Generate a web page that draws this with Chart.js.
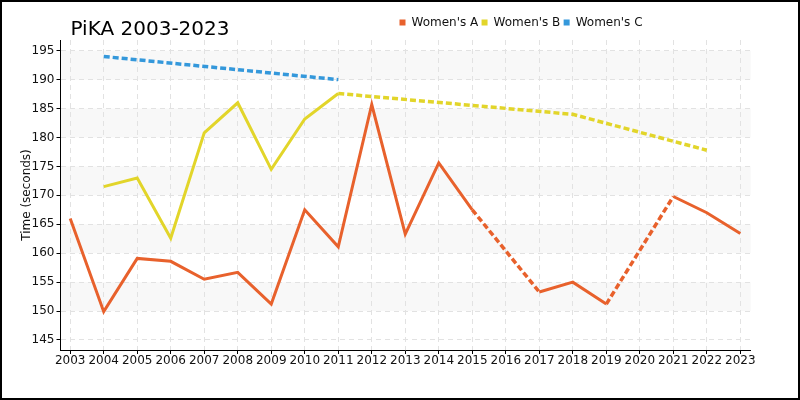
<!DOCTYPE html>
<html>
<head>
<meta charset="utf-8">
<script src="https://cdn.jsdelivr.net/npm/chart.js@4"></script>
<style>
  html, body { margin: 0; padding: 0; background: #fff; }
  #wrap { width: 800px; height: 400px; }
</style>
</head>
<body>
<div id="wrap"><canvas id="myChart" width="800" height="400"></canvas></div>
<script>
var years = [2003, 2004, 2005, 2006, 2007, 2008, 2009, 2010, 2011, 2012, 2013,
             2014, 2015, 2016, 2017, 2018, 2019, 2020, 2021, 2022, 2023];
var womenA = [166.0, 149.9, 159.1, 158.6, 155.5, 156.7, 151.2, 167.5, 161.1, 185.7, 163.3,
              175.6, 167.5, null, 153.3, 155.0, 151.2, null, 169.8, 167.0, 163.4];
var womenB = [null, 171.5, 173.0, 162.6, 180.8, 186.0, 174.5, 183.2, 187.6, null, null,
              null, null, null, null, 184.0, null, null, null, 177.8, null];
var womenC = [null, 194.0, null, null, null, null, null, null, 190.0, null, null,
              null, null, null, null, null, null, null, null, null, null];
var yTicks = [145, 150, 155, 160, 165, 170, 175, 180, 185, 190, 195];
var bands = [[150, 155], [160, 165], [170, 175], [180, 185], [190, 195]];

var FONT = 'DejaVu Sans';

function points(values) {
  return years.map(function(yr, i) { return { x: yr, y: values[i] }; });
}

// gaps get joined with a dashed segment
var skipped = function(ctx, value) {
  return ctx.p0.skip || ctx.p1.skip ? value : undefined;
};

function series(label, color, values) {
  return {
    label: label,
    data: points(values),
    borderColor: color,
    backgroundColor: color,
    borderWidth: 3,
    pointRadius: 0,
    pointHoverRadius: 0,
    tension: 0,
    spanGaps: true,
    segment: {
      borderDash: function(ctx) { return skipped(ctx, [6, 3]); },
      borderWidth: function(ctx) { return skipped(ctx, 3.5); }
    }
  };
}

var decor = {
  id: 'decor',
  afterLayout: function(chart) {
    var lg = chart.legend;
    lg.left = 399.5 - lg.options.labels.padding;
    lg.right = 800;
    lg.top -= 1.5;
    lg.bottom -= 1.5;
  },
  beforeDraw: function(chart) {
    var c = chart.ctx, area = chart.chartArea, ys = chart.scales.y;
    c.save();
    c.fillStyle = '#f8f8f8';
    for (var b of bands) {
      var top = ys.getPixelForValue(b[1]);
      var bot = ys.getPixelForValue(b[0]);
      c.fillRect(area.left, top, area.right - area.left, bot - top);
    }
    c.restore();
  },
  afterDraw: function(chart) {
    var c = chart.ctx;
    c.save();
    c.fillStyle = '#000';
    c.font = '20px "' + FONT + '"';
    c.textBaseline = 'alphabetic';
    c.textAlign = 'left';
    c.fillText('PiKA 2003-2023', 70.5, 35);
    c.lineWidth = 2;
    c.strokeStyle = '#000';
    c.strokeRect(1, 1, 798, 398);
    c.restore();
  }
};

var ctx = document.getElementById('myChart').getContext('2d');
var myChart = new Chart(ctx, {
  type: 'line',
  data: {
    datasets: [
      series("Women's A", '#e8612c', womenA),
      series("Women's B", '#e2d52a', womenB),
      series("Women's C", '#3498db', womenC)
    ]
  },
  options: {
    responsive: false,
    animation: false,
    devicePixelRatio: 1,
    layout: { padding: { left: 0, right: 49.3, top: 14.7, bottom: 0 } },
    plugins: {
      title: { display: false },
      tooltip: { enabled: false },
      legend: {
        display: true,
        position: 'top',
        align: 'start',
        labels: {
          boxWidth: 6,
          boxHeight: 6,
          padding: 3.3,
          color: '#111',
          font: { family: FONT, size: 12 },
          generateLabels: function(chart) {
            return Chart.defaults.plugins.legend.labels.generateLabels(chart).map(function(l) {
              l.lineWidth = 0;
              l.lineDash = [];
              l.fillStyle = l.strokeStyle;
              return l;
            });
          }
        }
      }
    },
    scales: {
      x: {
        type: 'linear',
        min: 2002.71,
        max: 2023.31,
        afterBuildTicks: function(scale) {
          scale.ticks = years.map(function(v) { return { value: v }; });
        },
        afterFit: function(scale) { scale.height = 50; },
        ticks: {
          color: '#111',
          font: { family: FONT, size: 12 },
          padding: 0,
          maxRotation: 0,
          autoSkip: false,
          callback: function(v) { return String(v); }
        },
        grid: { color: '#e2e2e2', tickColor: '#000', tickLength: 4, lineWidth: 1 },
        border: { display: true, color: '#000', width: 1, dash: [5, 4] }
      },
      y: {
        min: 143.27,
        max: 196.85,
        afterBuildTicks: function(scale) {
          scale.ticks = yTicks.map(function(v) { return { value: v }; });
        },
        afterFit: function(scale) { scale.width = 60.5; },
        ticks: {
          color: '#111',
          font: { family: FONT, size: 12 },
          padding: 2,
          callback: function(v) { return String(v); }
        },
        title: {
          display: true,
          text: 'Time (seconds)',
          color: '#111',
          font: { family: FONT, size: 12 },
          padding: { top: 19.5, bottom: 0 }
        },
        grid: { color: '#e2e2e2', tickColor: '#000', tickLength: 4, lineWidth: 1 },
        border: { display: true, color: '#000', width: 1, dash: [5, 4] }
      }
    }
  },
  plugins: [decor]
});
</script>
</body>
</html>
